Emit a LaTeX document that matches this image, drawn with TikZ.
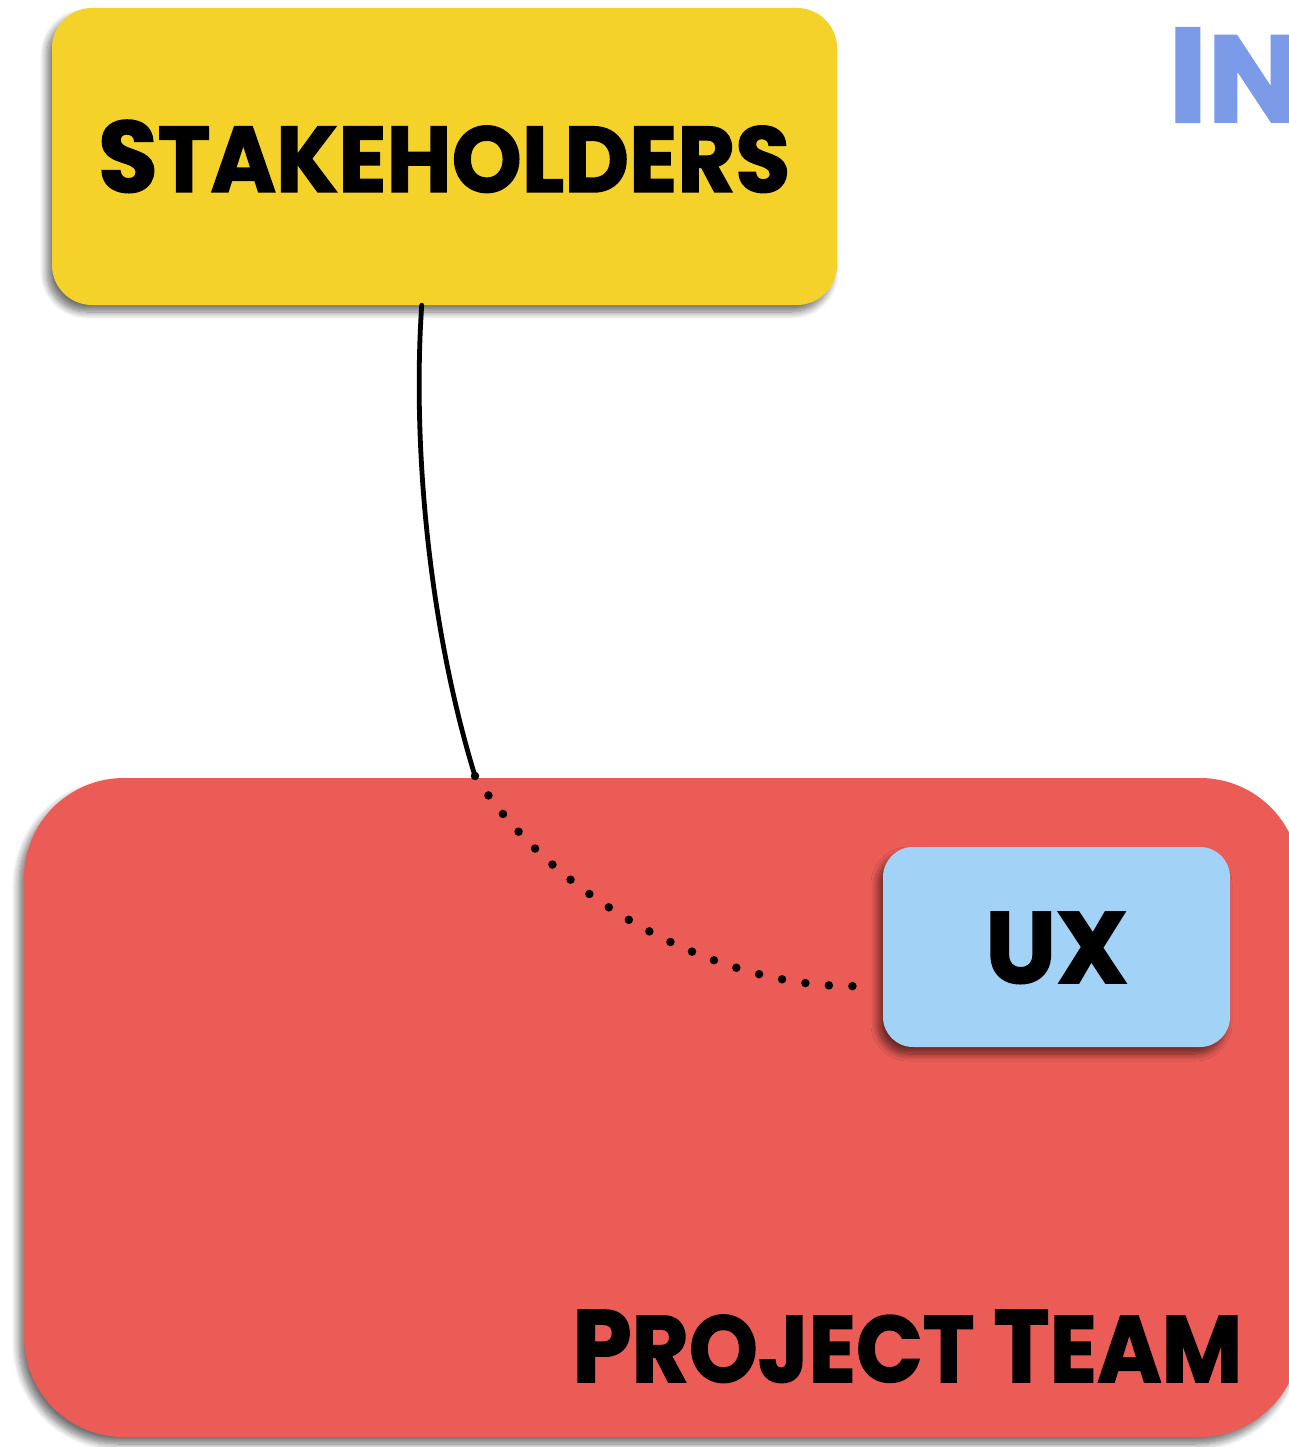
\documentclass[tikz,border=0pt]{standalone}
\usepackage{fontspec}
\usepackage{graphicx}
\setmainfont{Poppins}[BoldFeatures={FakeBold=1.6}]
\usetikzlibrary{shadows.blur,calc}
\definecolor{shyellow}{HTML}{F5D22A}
\definecolor{ptred}{HTML}{EB5C57}
\definecolor{uxblue}{HTML}{A2D2F5}
\definecolor{inblue}{HTML}{7B9BE8}
\newcommand\fakesc[2]{{\fontsize{100}{100}\selectfont\bfseries #1}{\fontsize{92}{92}\selectfont\bfseries #2}}
\tikzset{
  card/.style={rectangle, inner sep=0pt, draw=none,
    blur shadow={shadow xshift=-5pt, shadow yshift=-7pt, shadow blur steps=10,
      shadow blur radius=7pt, shadow opacity=55}},
  lbl/.style={anchor=base west, inner sep=0pt, text=black},
  conn/.style={line width=4.8pt, line cap=round},
  dotconn/.style={line width=8.5pt, line cap=round, dash pattern=on 0pt off 23.6pt}
}
\begin{document}
\begin{tikzpicture}[x=1pt,y=-1pt]
\useasboundingbox (0,0) rectangle (1288,1447);
% Project team
\node[card, fill=ptred, rounded corners=100pt, minimum width=1276pt, minimum height=659pt] (pt) at (662,1107.5) {};
% Stakeholders
\node[card, fill=shyellow, rounded corners=40pt, minimum width=785pt, minimum height=297pt] (sh) at (444.5,156.5) {};
% UX
\node[card, fill=uxblue, rounded corners=30pt, minimum width=347pt, minimum height=200pt] (ux) at (1056.5,947) {};
% labels
\node[lbl] (shtext) at (98,192) {\resizebox{692pt}{72pt}{\fakesc{S}{TAKEHOLDERS}}};
\node[lbl] (pttext) at (572,1382) {\resizebox{670pt}{72pt}{\fakesc{P}{ROJECT\ }\fakesc{T}{EAM}}};
\node[lbl] (uxtext) at (985,983) {\resizebox{143pt}{71pt}{\fakesc{UX}{}}};
\node[lbl, text=inblue] (intext) at (1168,122) {\resizebox{!}{94pt}{\fakesc{I}{N}}};
% connectors
\coordinate (shfoot) at ($(sh.south west)!0.471!(sh.south east)$);
\coordinate (join) at (475,776);
\coordinate (uxend) at (860,986);
\draw[conn] (shfoot) .. controls (412,450) and (430,630) .. (join);
\draw[dotconn] (join) .. controls (555,900) and (720,990) .. (uxend);
\end{tikzpicture}
\end{document}
